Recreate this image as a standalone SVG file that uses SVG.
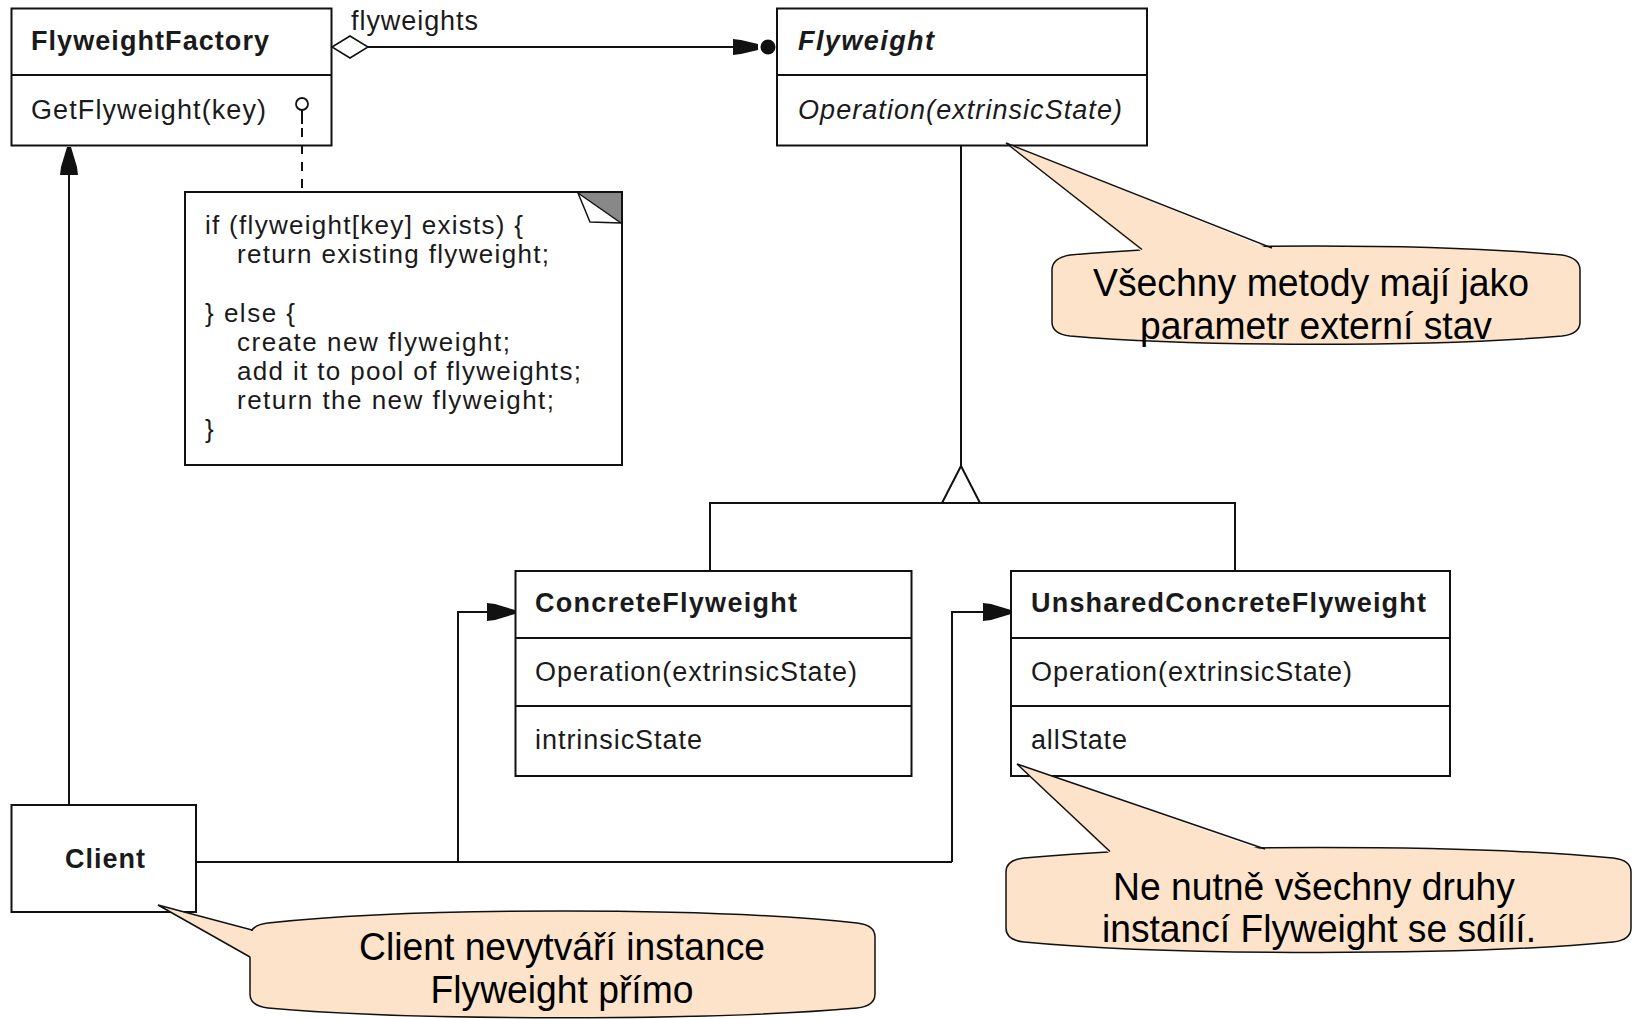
<svg xmlns="http://www.w3.org/2000/svg" width="1633" height="1019" viewBox="0 0 1633 1019">
<style>
.box{fill:#fff;stroke:#111;stroke-width:2}
.ln{fill:none;stroke:#111;stroke-width:2}
.t{font-family:"Liberation Sans",Arial,sans-serif;font-size:27px;fill:#1a1a1a}
.n{font-size:26px}
.b{font-weight:bold}
.i{font-style:italic}
.call{fill:#fde3c9;stroke:#111;stroke-width:1.5}
.tailfill{fill:#fde3c9;stroke:none}
.tailln{fill:none;stroke:#111;stroke-width:1.5;stroke-linejoin:miter}
.ct{font-family:"Liberation Sans",Arial,sans-serif;font-size:38px;fill:#000;text-anchor:middle}
</style>
<defs>
<marker id="arrow" markerUnits="userSpaceOnUse" markerWidth="30" markerHeight="20" refX="28" refY="10" orient="auto" overflow="visible">
<path d="M0,1 L8,2 L28,8 L28,12 L8,18 L0,19 Z" fill="#111"/>
</marker>
</defs>

<g id="FlyweightFactory">
<rect class="box" x="11.5" y="8.5" width="320" height="137"/>
<line class="ln" x1="11.5" y1="75" x2="331.5" y2="75"/>
<text class="t b" x="31" y="50" textLength="238" lengthAdjust="spacing">FlyweightFactory</text>
<text class="t" x="31" y="119" textLength="235" lengthAdjust="spacing">GetFlyweight(key)</text>
</g>

<text id="label-flyweights" class="t" x="351" y="30" textLength="127" lengthAdjust="spacing">flyweights</text>

<g id="Flyweight">
<rect class="box" x="777" y="8.5" width="370" height="137"/>
<line class="ln" x1="777" y1="75" x2="1147" y2="75"/>
<text class="t b i" x="798" y="50" textLength="136" lengthAdjust="spacing">Flyweight</text>
<text class="t i" x="798" y="119" textLength="324" lengthAdjust="spacing">Operation(extrinsicState)</text>
</g>

<g id="Note">
<rect class="box" x="185" y="192" width="437" height="273"/>
<polygon points="578,193 621,193 621,223" fill="#888"/>
<polygon points="578,193 590,222 621,223" fill="#fff" stroke="#111" stroke-width="1.5" stroke-linejoin="round"/>
<text class="t n" x="205" y="234" textLength="318" lengthAdjust="spacing">if (flyweight[key] exists) {</text>
<text class="t n" x="237" y="263" textLength="312" lengthAdjust="spacing">return existing flyweight;</text>
<text class="t n" x="205" y="322" textLength="90" lengthAdjust="spacing">} else {</text>
<text class="t n" x="237" y="351" textLength="273" lengthAdjust="spacing">create new flyweight;</text>
<text class="t n" x="237" y="380" textLength="344" lengthAdjust="spacing">add it to pool of flyweights;</text>
<text class="t n" x="237" y="409" textLength="317" lengthAdjust="spacing">return the new flyweight;</text>
<text class="t n" x="205" y="438">}</text>
</g>

<g id="ConcreteFlyweight">
<rect class="box" x="515.5" y="571" width="396" height="205"/>
<line class="ln" x1="515.5" y1="638" x2="911.5" y2="638"/>
<line class="ln" x1="515.5" y1="706" x2="911.5" y2="706"/>
<text class="t b" x="535" y="612" textLength="262" lengthAdjust="spacing">ConcreteFlyweight</text>
<text class="t" x="535" y="681" textLength="322" lengthAdjust="spacing">Operation(extrinsicState)</text>
<text class="t" x="535" y="749" textLength="167" lengthAdjust="spacing">intrinsicState</text>
</g>

<g id="UnsharedConcreteFlyweight">
<rect class="box" x="1011" y="571" width="439" height="205"/>
<line class="ln" x1="1011" y1="638" x2="1450" y2="638"/>
<line class="ln" x1="1011" y1="706" x2="1450" y2="706"/>
<text class="t b" x="1031" y="612" textLength="395" lengthAdjust="spacing">UnsharedConcreteFlyweight</text>
<text class="t" x="1031" y="681" textLength="321" lengthAdjust="spacing">Operation(extrinsicState)</text>
<text class="t" x="1031" y="749" textLength="96" lengthAdjust="spacing">allState</text>
</g>

<g id="Client">
<rect class="box" x="11.5" y="805" width="184.5" height="107"/>
<text class="t b" x="65" y="868" textLength="80" lengthAdjust="spacing">Client</text>
</g>

<g id="connectors">
<!-- aggregation FlyweightFactory -> Flyweight -->
<path class="ln" d="M368,47 L735,47"/>
<polygon points="332,47 350,36 368,47 350,58" fill="#fff" stroke="#111" stroke-width="1.5"/>
<path d="M733,39 L741,40 L758,44 L758,50 L741,54 L733,55 Z" fill="#111"/>
<circle cx="768" cy="47" r="7.5" fill="#111"/>
<!-- Client -> FlyweightFactory -->
<path class="ln" d="M69,805 L69,147" marker-end="url(#arrow)"/>
<!-- Client -> ConcreteFlyweight / UnsharedConcreteFlyweight -->
<path class="ln" d="M196,862 L952,862"/>
<path class="ln" d="M458,862 L458,612 L515,612" marker-end="url(#arrow)"/>
<path class="ln" d="M952,862 L952,612 L1011,612" marker-end="url(#arrow)"/>
<!-- inheritance -->
<path class="ln" d="M961,145 L961,466"/>
<path class="ln" d="M710,571 L710,503 L1235,503 L1235,571"/>
<polygon points="961,466 980,503 942,503" fill="#fff" stroke="#111" stroke-width="2"/>
<!-- note anchor -->
<circle cx="302" cy="104" r="6" fill="#fff" stroke="#111" stroke-width="1.8"/>
<path class="ln" d="M302,110 L302,124"/>
<path class="ln" d="M302,128 L302,192" stroke-dasharray="9,8"/>
</g>

<g id="callout-operation">
<path class="call" d="M1052,270 Q1052,258 1070,255 C1200,243 1432,243 1562,255 Q1580,258 1580,270 L1580,322 Q1580,334 1562,336 C1432,347 1200,347 1070,336 Q1052,334 1052,322 Z"/>
<polygon class="tailfill" points="1142,252 1006,143 1272,250 1272,256 1142,258"/>
<polyline class="tailln" points="1142,249.5 1006,143 1272,248"/>
<text class="ct" x="1311" y="296" textLength="436" lengthAdjust="spacingAndGlyphs">Všechny metody mají jako</text>
<text class="ct" x="1316" y="339" textLength="352" lengthAdjust="spacingAndGlyphs">parametr externí stav</text>
</g>

<g id="callout-unshared">
<path class="call" d="M1006,872 Q1006,860 1024,858 C1170,844 1467,844 1613,858 Q1631,860 1631,872 L1631,928 Q1631,940 1613,942 C1467,956 1170,956 1024,942 Q1006,940 1006,928 Z"/>
<polygon class="tailfill" points="1110,854 1017,764 1265,851 1265,858 1110,860"/>
<polyline class="tailln" points="1110,851.5 1017,764 1265,849"/>
<text class="ct" x="1314" y="900" textLength="402" lengthAdjust="spacingAndGlyphs">Ne nutně všechny druhy</text>
<text class="ct" x="1319" y="942" textLength="434" lengthAdjust="spacingAndGlyphs">instancí Flyweight se sdílí.</text>
</g>

<g id="callout-client">
<path class="call" d="M250,937 Q250,925 268,923 C414,907 711,907 857,923 Q875,925 875,937 L875,994 Q875,1006 857,1008 C711,1021 414,1021 268,1008 Q250,1006 250,994 Z"/>
<polygon class="tailfill" points="251,931 158,905 251,957 255,957 255,931"/>
<polyline class="tailln" points="252,930 158,905 250,957"/>
<text class="ct" x="562" y="960" textLength="406" lengthAdjust="spacingAndGlyphs">Client nevytváří instance</text>
<text class="ct" x="562" y="1003" textLength="263" lengthAdjust="spacingAndGlyphs">Flyweight přímo</text>
</g>
</svg>
